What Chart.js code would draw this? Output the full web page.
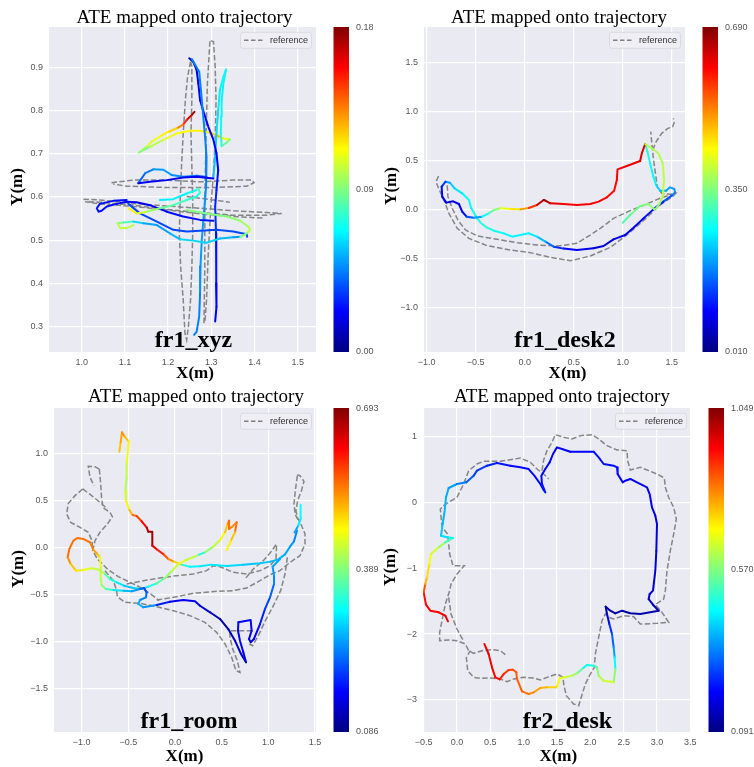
<!DOCTYPE html>
<html>
<head>
<meta charset="utf-8">
<title>ATE mapped onto trajectory</title>
<script src="https://cdn.jsdelivr.net/npm/chart.js@4.4.1/dist/chart.umd.min.js"></script>
<style>
  html, body { margin: 0; padding: 0; background: #fff; }
  #wrap { position: relative; width: 754px; height: 767px; overflow: hidden; }
  canvas { position: absolute; }
</style>
</head>
<body>
<div id="wrap">
  <canvas id="p1" width="390" height="384" style="left:0;top:0"></canvas>
  <canvas id="p2" width="377" height="384" style="left:377px;top:0"></canvas>
  <canvas id="p3" width="390" height="383" style="left:0;top:384px"></canvas>
  <canvas id="p4" width="377" height="383" style="left:377px;top:384px"></canvas>
</div>
<script>
// ---- fr1_xyz ----
const xyzRefX = [1.252,1.245,1.240,1.235,1.231,1.228,1.226,1.229,1.235,1.239,1.243,1.247,1.252,1.255,1.257,1.257,1.255,1.253,1.255,1.255,1.252, null,
  1.283,1.285,1.285,1.288,1.291,1.297,1.305,1.309,1.311,1.309,1.305,1.299,1.293,1.289,1.285, null,
  1.069,1.120,1.197,1.274,1.351,1.394,1.399,1.382,1.312,1.197,1.104,1.073, null,
  1.004,1.042,1.120,1.197,1.274,1.351,1.428,1.463,1.428,1.351,1.274,1.197,1.120,1.042,1.008,1.042,1.120,1.197,1.274,1.351,1.421, null,
  1.243,1.343];
const xyzRefY = [0.913,0.878,0.824,0.747,0.670,0.593,0.516,0.439,0.362,0.285,0.269,0.300,0.362,0.439,0.516,0.593,0.670,0.747,0.824,0.902,0.913, null,
  0.308,0.439,0.593,0.747,0.863,0.963,0.959,0.902,0.824,0.732,0.655,0.578,0.470,0.362,0.308, null,
  0.633,0.639,0.639,0.635,0.639,0.639,0.633,0.625,0.622,0.622,0.625,0.630, null,
  0.595,0.593,0.585,0.579,0.574,0.568,0.564,0.562,0.558,0.558,0.564,0.571,0.581,0.588,0.589,0.584,0.578,0.570,0.561,0.555,0.551, null,
  0.601,0.588];
const xyzEstX = [1.261,1.255,1.243,1.234,1.220,1.201,1.181,1.162,1.150,1.133,1.158,1.189,1.220,1.251,1.274,1.297,1.316,1.326,1.343,1.336,1.324,1.322,1.323,1.324,1.328,1.334,1.328,1.320,1.316,1.312,1.309,1.305, null,
  1.249,1.258,1.266,1.270,1.274,1.283,1.293,1.305,1.312,1.316,1.312,1.309,1.311,1.312,1.311,1.312,1.309, null,
  1.255,1.272,1.276,1.280,1.285,1.289,1.288,1.283,1.278,1.275,1.274,1.272,1.266,1.260, null,
  1.131,1.147,1.166,1.189,1.208,1.235,1.266,1.289, null,
  1.131,1.158,1.197,1.235,1.266,1.305, null,
  1.104,1.073,1.042,1.035,1.039,1.046,1.058,1.081,1.104,1.127,1.158,1.197,1.235,1.274,1.305, null,
  1.108,1.135,1.174,1.212,1.243,1.274,1.312,1.351,1.382,1.383, null,
  1.083,1.096,1.120,1.143,1.174,1.204,1.228,1.258,1.289,1.320,1.351,1.367, null,
  1.083,1.089,1.104,1.120, null,
  1.243,1.289,1.336,1.367,1.386,1.390,1.382,1.367, null,
  1.108,1.127,1.150,1.181,1.212,1.243,1.266,1.274,1.270, null,
  1.181,1.212,1.243,1.266];
const xyzEstY = [0.797,0.790,0.778,0.767,0.759,0.751,0.740,0.728,0.716,0.703,0.716,0.732,0.747,0.753,0.753,0.749,0.741,0.736,0.733,0.726,0.718,0.747,0.786,0.824,0.863,0.895,0.878,0.848,0.801,0.747,0.693,0.647, null,
  0.921,0.913,0.894,0.863,0.824,0.794,0.763,0.732,0.701,0.662,0.616,0.578,0.516,0.454,0.400,0.346,0.312, null,
  0.919,0.890,0.848,0.801,0.747,0.693,0.624,0.562,0.501,0.439,0.377,0.323,0.288,0.281, null,
  0.632,0.655,0.664,0.663,0.651,0.647,0.649,0.646, null,
  0.632,0.635,0.639,0.645,0.647,0.643, null,
  0.593,0.591,0.584,0.574,0.566,0.568,0.578,0.584,0.589,0.588,0.581,0.566,0.555,0.547,0.545, null,
  0.584,0.562,0.543,0.524,0.520,0.522,0.524,0.520,0.514,0.508, null,
  0.539,0.541,0.543,0.539,0.535,0.516,0.502,0.499,0.494,0.504,0.507,0.508, null,
  0.539,0.528,0.528,0.535, null,
  0.570,0.562,0.555,0.545,0.531,0.524,0.516,0.507, null,
  0.574,0.562,0.566,0.574,0.581,0.593,0.601,0.610,0.620, null,
  0.593,0.595,0.608,0.616];
const xyzErr = [0.175,0.165,0.15,0.135,0.12,0.115,0.11,0.105,0.1,0.09,0.1,0.108,0.112,0.115,0.115,0.12,0.125,0.11,0.09,0.085,0.075,0.07,0.068,0.066,0.066,0.07,0.068,0.065,0.062,0.06,0.058,0.056, null,
  0.01,0.012,0.015,0.018,0.02,0.02,0.02,0.02,0.022,0.025,0.028,0.03,0.025,0.025,0.022,0.02,0.02, null,
  0.045,0.045,0.045,0.045,0.045,0.045,0.048,0.05,0.05,0.048,0.045,0.045,0.045,0.045, null,
  0.04,0.045,0.05,0.05,0.048,0.045,0.04,0.045, null,
  0.02,0.02,0.02,0.02,0.02,0.02, null,
  0.025,0.025,0.025,0.025,0.025,0.025,0.025,0.022,0.02,0.02,0.02,0.025,0.025,0.025,0.025, null,
  0.035,0.035,0.035,0.035,0.035,0.035,0.035,0.035,0.035,0.035, null,
  0.09,0.08,0.06,0.052,0.05,0.055,0.06,0.06,0.06,0.055,0.05,0.05, null,
  0.1,0.102,0.1,0.09, null,
  0.09,0.09,0.092,0.095,0.1,0.1,0.09,0.085, null,
  0.115,0.105,0.095,0.085,0.08,0.075,0.07,0.08,0.075, null,
  0.065,0.065,0.07,0.07];

// ---- fr1_desk2 ----
const desk2RefX = [-0.878,-0.905,-0.874,-0.824,-0.773,-0.688,-0.569,-0.383,-0.145,0.058,0.262,0.465,0.669,0.873,1.042,1.212,1.381,1.500,1.541,1.483,1.398,1.354,1.334,1.313,1.300,1.286, null,
  1.307,1.341,1.398,1.456,1.510,1.524,1.517, null,
  -0.790,-0.783,-0.739,-0.678,-0.603,-0.484,-0.281,-0.077,0.126,0.347,0.533,0.669,0.771,0.839,0.906,1.076,1.246,1.381,1.483];
const desk2RefY = [0.342,0.284,0.206,0.097,-0.040,-0.193,-0.295,-0.370,-0.414,-0.441,-0.489,-0.523,-0.476,-0.387,-0.261,-0.114,0.046,0.124,0.165,0.155,0.165,0.226,0.369,0.522,0.642,0.795, null,
  0.608,0.693,0.778,0.826,0.846,0.887,0.931, null,
  0.247,0.131,0.012,-0.114,-0.210,-0.271,-0.305,-0.339,-0.363,-0.373,-0.346,-0.261,-0.193,-0.142,-0.091,-0.012,0.056,0.114,0.148];
const desk2EstX = [1.229,1.252,1.280,1.313,1.341,1.381,1.442,1.483,1.527,1.534,1.500,1.415,1.313,1.212,1.110,1.025,0.906,0.805,0.703,0.533,
  0.398,0.296,0.211,0.126,0.041,-0.043,-0.128,-0.213,-0.315,-0.383,-0.450,-0.484,-0.545,-0.569,-0.637,-0.715,-0.763,-0.807,-0.847,-0.841,
  -0.800,-0.729,-0.671,-0.637,-0.593,-0.518,-0.434,-0.366,-0.315,-0.247,-0.145,-0.043,0.041,0.126,0.194,0.211,0.262,0.398,0.533,0.669,
  0.754,0.839,0.913,0.940,0.947,1.042,1.178,1.195,1.229,1.297,1.364,1.408,1.422,1.408,1.374,1.330,1.263,1.178,1.076,1.001];
const desk2EstY = [0.669,0.591,0.471,0.335,0.250,0.192,0.192,0.226,0.209,0.175,0.141,0.080,0.001,-0.091,-0.186,-0.261,-0.305,-0.373,-0.397,-0.414,
  -0.400,-0.380,-0.329,-0.278,-0.244,-0.261,-0.278,-0.244,-0.217,-0.186,-0.135,-0.091,0.012,0.097,0.165,0.216,0.274,0.284,0.233,0.131,
  0.070,0.083,0.056,-0.022,-0.074,-0.084,-0.074,-0.040,-0.005,0.012,0.005,0.001,0.015,0.046,0.097,0.090,0.063,0.056,0.046,0.056,
  0.080,0.124,0.192,0.301,0.410,0.444,0.495,0.574,0.669,0.625,0.574,0.471,0.301,0.131,0.056,-0.005,0.056,0.035,-0.057,-0.135];
const desk2Err = [0.30,0.28,0.27,0.26,0.24,0.22,0.2,0.2,0.2,0.18,0.15,0.12,0.1,0.09,0.09,0.08,0.07,0.07,0.08,0.09,
  0.12,0.17,0.22,0.25,0.26,0.26,0.26,0.27,0.28,0.29,0.29,0.28,0.27,0.27,0.25,0.23,0.2,0.13,0.1,0.08,
  0.07,0.07,0.08,0.1,0.15,0.2,0.27,0.32,0.36,0.42,0.45,0.5,0.57,0.65,0.67,0.66,0.62,0.61,0.61,0.61,
  0.61,0.6,0.6,0.61,0.61,0.62,0.63,0.63,0.38,0.38,0.38,0.39,0.39,0.38,0.37,0.36,0.35,0.34,0.32,0.28];

// ---- fr1_room ----
const roomRefX = [-0.811,-0.857,-0.929,-0.911,-0.868, null,
  -0.811,-0.796,-0.786,-0.768,-0.696,-0.671,-0.725,-0.804,-0.857,-0.882,-0.832,-0.725,-0.607,-0.482,-0.357,-0.261,-0.168, null,
  -0.989,-1.071,-1.143,-1.161,-1.118,-1.018,-0.929,-0.889,-0.882, null,
  -0.989,-0.893,-0.804,-0.725, null,
  -0.75,-0.661,-0.625,-0.618,-0.536,-0.375,-0.196,-0.018,0.161,0.321,0.446,0.536,0.607,0.654,0.696,0.668,0.618,0.589,0.589,0.696,0.821, null,
  -0.518,-0.339,-0.161,0.018,0.196,0.339,0.411,0.482,0.625,0.768,0.911,1.018,1.082,1.089, null,
  1.082,1.025,0.946,0.839,0.75, null,
  -0.196,-0.018,0.196,0.446,0.625,0.768,0.911,1.018,1.125,1.232,1.339,1.393,1.393,1.357,1.311,1.296,1.314,1.357,1.382,1.339,1.311, null,
  1.311,1.289,1.275,1.289,1.332, null,
  1.204,1.179,1.132,1.054,0.964,0.893,0.832,0.796];
const roomRefY = [0.833,0.858,0.862,0.745,0.656, null,
  0.833,0.674,0.514,0.418,0.372,0.326,0.248,0.160,0.071,-0.035,-0.124,-0.230,-0.312,-0.372,-0.433,-0.496,-0.567, null,
  0.621,0.550,0.468,0.355,0.266,0.213,0.160,0.071,-0.035, null,
  0.621,0.550,0.479,0.408, null,
  -0.248,-0.355,-0.461,-0.525,-0.585,-0.596,-0.631,-0.674,-0.727,-0.798,-0.904,-1.028,-1.170,-1.312,-1.330,-1.206,-1.082,-0.957,-0.887,-0.887,-0.887, null,
  -0.390,-0.355,-0.326,-0.301,-0.284,-0.248,-0.195,-0.206,-0.266,-0.284,-0.248,-0.195,-0.124,0.035, null,
  0.028,-0.053,-0.142,-0.230,-0.337, null,
  -0.560,-0.532,-0.489,-0.468,-0.461,-0.433,-0.355,-0.291,-0.248,-0.160,-0.089,0.035,0.142,0.230,0.319,0.390,0.496,0.610,0.702,0.762,0.773, null,
  0.762,0.603,0.461,0.348,0.266, null,
  -0.106,-0.284,-0.461,-0.621,-0.787,-0.940,-1.046,-1.028];
const roomEstX = [-0.596,-0.582,-0.568,-0.539,-0.496,-0.504,-0.518,-0.518,-0.532,-0.525,-0.489,-0.454,-0.411,-0.357,-0.304,-0.286,-0.243,-0.243,-0.189,-0.118,
  -0.071,-0.011,0.071,0.161,0.268,0.393,0.554,0.732,0.911,1.025,1.107,1.179,1.232,1.275,1.307,1.282,1.321,1.350,1.346, null,
  -0.875,-0.911,-0.982,-1.046,-1.089,-1.132,-1.15,-1.118,-1.061,-0.982,-0.893,-0.811,-0.75,-0.696,-0.625,-0.546,-0.446,-0.357,-0.286,-0.196,
  -0.107,-0.036,0.036,0.118,0.196,0.257,0.321,0.411,0.482,0.536,0.564,0.579,0.579,0.614,0.661,0.643,0.596,0.554, null,
  -0.875,-0.832,-0.804,-0.796,-0.796,-0.786,-0.739,-0.661,-0.554,-0.464,-0.375,-0.332,-0.304,-0.311,-0.375,-0.393,-0.339,-0.196,-0.054,0.089,
  0.214,0.268,0.375,0.482,0.571,0.643,0.704,0.761,0.732,0.696,0.675,0.679,0.811,0.821,0.793,0.811,0.846,0.911,0.964,1.018,1.061,1.061,1.046,1.125];
const roomEstY = [1.018,1.117,1.223,1.177,1.128,1.028,0.887,0.745,0.603,0.496,0.397,0.344,0.333,0.277,0.213,0.167,0.167,0.018,-0.025,-0.078,
  -0.124,-0.152,-0.184,-0.206,-0.202,-0.184,-0.198,-0.184,-0.170,-0.152,-0.128,-0.075,0.007,0.064,0.177,0.160,0.231,0.312,0.454, null,
  -0.025,0.053,0.089,0.099,0.071,-0.018,-0.106,-0.177,-0.248,-0.241,-0.223,-0.238,-0.284,-0.337,-0.372,-0.408,-0.433,-0.443,-0.418,-0.383,
  -0.326,-0.255,-0.177,-0.135,-0.106,-0.078,-0.053,0.007,0.078,0.16,0.248,0.284,0.195,0.22,0.266,0.16,0.064,-0.028, null,
  -0.025,-0.071,-0.106,-0.213,-0.337,-0.401,-0.443,-0.454,-0.461,-0.468,-0.443,-0.433,-0.479,-0.532,-0.56,-0.603,-0.638,-0.613,-0.578,-0.56,
  -0.574,-0.621,-0.691,-0.762,-0.869,-0.993,-1.128,-1.223,-1.117,-0.993,-0.887,-0.798,-0.773,-0.887,-0.975,-1.011,-0.975,-0.816,-0.656,-0.532,-0.39,-0.301,-0.206,-0.124];
const roomErr = [0.5,0.52,0.53,0.5,0.47,0.45,0.43,0.42,0.44,0.47,0.51,0.55,0.58,0.62,0.66,0.67,0.67,0.63,0.6,0.57,
  0.53,0.49,0.33,0.31,0.3,0.3,0.29,0.28,0.28,0.27,0.27,0.26,0.25,0.24,0.24,0.26,0.3,0.32,0.34, null,
  0.54,0.55,0.55,0.55,0.55,0.55,0.53,0.5,0.48,0.45,0.43,0.42,0.37,0.33,0.3,0.28,0.29,0.3,0.33,0.37,
  0.4,0.43,0.45,0.43,0.42,0.33,0.4,0.43,0.46,0.5,0.53,0.55,0.54,0.53,0.55,0.5,0.47,0.45, null,
  0.52,0.5,0.46,0.43,0.42,0.4,0.35,0.3,0.27,0.25,0.22,0.2,0.22,0.24,0.26,0.27,0.25,0.18,0.15,0.15,
  0.15,0.13,0.12,0.11,0.12,0.13,0.13,0.14,0.15,0.15,0.15,0.16,0.16,0.15,0.14,0.14,0.16,0.18,0.2,0.22,0.24,0.25,0.26,0.26];

// ---- fr2_desk ----
const deskRefX = [0.725,0.65,0.525,0.375,0.25,0.175,0.125,0.0,-0.125,-0.26,-0.26,-0.225,-0.175,-0.11,-0.09,0.0,0.11,0.05,-0.06,-0.11,
  -0.14,-0.225,-0.25,-0.2,-0.125,0.0,0.1,0.175,0.3,0.4,0.65,0.775,0.95,1.1,1.2,1.3,1.375, null,
  1.275,1.3,1.35,1.425,1.475,1.6,1.725,1.85,2.025,2.125,2.25,2.4,2.55,2.56,2.6,2.75,2.875,3.0,3.11,3.125,
  3.175,3.25,3.29,3.25,3.2,3.15,3.125,3.1,3.025,2.975,3.075,3.175,3.0,2.8,2.75,2.65,2.5,2.35,2.275,2.225,
  2.175,2.125,2.075,2.06,2.0,1.925,1.825,1.75,1.64,1.6,1.59,1.5,1.35,1.25,1.15,1.0,0.85,0.75,0.65,0.5,
  0.35,0.25,0.16,0.14,0.2, null,
  -0.125,-0.09,0.0,0.09];
const deskRefY = [-2.312,-2.252,-2.236,-2.252,-2.292,-2.252,-2.150,-2.100,-2.090,-2.100,-1.973,-1.796,-1.544,-1.341,-1.240,-1.088,-0.962,-0.962,-0.962,-0.785,
  -0.482,-0.381,-0.102,-0.052,-0.001,0.075,0.277,0.479,0.580,0.621,0.621,0.641,0.671,0.606,0.504,0.429,0.353, null,
  0.479,0.641,0.783,0.909,1.025,0.985,0.960,1.010,1.025,0.960,0.858,0.793,0.783,0.631,0.489,0.530,0.479,0.429,0.368,0.226,
  0.075,-0.077,-0.254,-0.482,-0.735,-1.038,-1.341,-1.468,-1.518,-1.554,-1.670,-1.822,-1.837,-1.847,-1.847,-1.736,-1.721,-1.771,-1.746,-1.695,
  -1.796,-2.049,-2.302,-2.504,-2.606,-2.757,-3.086,-3.061,-2.934,-2.757,-2.656,-2.606,-2.656,-2.697,-2.666,-2.656,-2.681,-2.722,-2.681,-2.666,
  -2.671,-2.656,-2.555,-2.353,-2.252, null,
  -1.442,-1.695,-1.923,-2.090];
const deskEstX = [-0.135,-0.175,-0.275,-0.4,-0.465,-0.5,-0.475,-0.45,-0.415,-0.39,-0.275,-0.175,-0.06,-0.15,-0.24,-0.215,-0.185,-0.165,-0.125,0.0,
  0.14,0.25,0.3,0.45,0.6,0.8,0.95,1.075,1.16,1.25,1.3,1.325,1.275,1.265,1.325,1.39,1.44,1.5,1.575,1.7,
  1.9,2.05,2.125,2.2,2.35,2.4,2.41,2.485,2.525,2.6,2.7,2.85,2.89,2.925,2.975,3.0,2.99,2.975,2.94,2.89,
  2.875,2.94,3.025,2.75,2.6,2.475,2.375,2.3,2.23,2.25,2.285,2.325,2.35,2.365,2.375,2.35,2.2,2.125,2.1,2.05,
  1.95,1.875,1.8,1.725,1.625,1.54,1.525,1.49,1.35,1.25,1.15,1.075,0.975,0.9,0.89,0.84,0.775,0.7,0.64,0.575,
  0.525,0.475,0.41];
const deskEstY = [-1.807,-1.721,-1.670,-1.645,-1.554,-1.367,-1.240,-1.139,-0.937,-0.785,-0.684,-0.608,-0.542,-0.532,-0.507,-0.330,-0.128,0.075,0.216,0.277,
  0.302,0.403,0.479,0.555,0.595,0.555,0.530,0.504,0.403,0.277,0.186,0.150,0.277,0.403,0.504,0.606,0.732,0.833,0.808,0.767,
  0.767,0.767,0.681,0.580,0.555,0.530,0.429,0.302,0.327,0.353,0.302,0.226,0.125,-0.077,-0.204,-0.330,-0.735,-1.038,-1.341,-1.392,
  -1.468,-1.554,-1.645,-1.695,-1.685,-1.645,-1.685,-1.645,-1.584,-1.695,-1.847,-1.999,-2.201,-2.353,-2.530,-2.732,-2.707,-2.631,-2.504,-2.479,
  -2.469,-2.530,-2.596,-2.631,-2.656,-2.666,-2.732,-2.808,-2.808,-2.818,-2.884,-2.909,-2.868,-2.681,-2.580,-2.540,-2.545,-2.606,-2.687,-2.656,
  -2.504,-2.302,-2.150];
const deskErr = [0.95,0.94,0.93,0.93,0.92,0.85,0.76,0.72,0.68,0.65,0.6,0.52,0.45,0.42,0.4,0.38,0.38,0.37,0.36,0.33,
  0.3,0.27,0.26,0.24,0.23,0.22,0.22,0.22,0.22,0.22,0.23,0.23,0.22,0.22,0.21,0.2,0.2,0.2,0.2,0.21,
  0.21,0.22,0.22,0.22,0.22,0.22,0.2,0.2,0.2,0.2,0.2,0.2,0.2,0.19,0.18,0.18,0.17,0.17,0.17,0.16,
  0.15,0.14,0.13,0.13,0.13,0.13,0.12,0.12,0.13,0.2,0.25,0.3,0.36,0.45,0.58,0.65,0.62,0.58,0.52,0.47,
  0.45,0.55,0.6,0.63,0.66,0.68,0.7,0.73,0.76,0.78,0.8,0.82,0.84,0.84,0.85,0.86,0.88,0.9,0.92,0.93,
  0.94,0.95,0.95];

const SERIF = "'Liberation Serif', 'Times New Roman', serif";
const SANS = "'Liberation Sans', Arial, sans-serif";
Chart.defaults.font.family = SANS;

// matplotlib-style jet
function jet(t) {
  t = Math.max(0, Math.min(1, t));
  const c = v => Math.round(255 * Math.max(0, Math.min(1, v)));
  return `rgb(${c(1.5 - Math.abs(4 * t - 3))},${c(1.5 - Math.abs(4 * t - 2))},${c(1.5 - Math.abs(4 * t - 1))})`;
}

function fmt(v, d) {
  return (v < -1e-9 ? '\u2212' : '') + Math.abs(v).toFixed(d);
}

function toPts(xs, ys) {
  return xs.map((x, i) => ({ x: x, y: ys[i] }));
}

// background, legend, colorbar and texts
const decor = {
  id: 'decor',
  beforeDraw(chart) {
    const { ctx, chartArea: a } = chart;
    ctx.save();
    ctx.fillStyle = '#EAEAF2';
    ctx.fillRect(a.left, a.top, a.right - a.left, a.bottom - a.top);
    ctx.restore();
  },
  afterDraw(chart, args, o) {
    const { ctx, chartArea: a } = chart;
    ctx.save();

    // legend box
    const lw = 71, lh = 16, lx = a.right - 4.5 - lw, ly = a.top + 5.3;
    ctx.beginPath();
    if (ctx.roundRect) ctx.roundRect(lx, ly, lw, lh, 2.5); else ctx.rect(lx, ly, lw, lh);
    ctx.fillStyle = 'rgba(238,238,244,0.9)';
    ctx.fill();
    ctx.strokeStyle = '#dadae2';
    ctx.lineWidth = 1;
    ctx.stroke();
    ctx.setLineDash([4.5, 2.5]);
    ctx.strokeStyle = 'rgb(128,128,128)';
    ctx.lineWidth = 1.5;
    ctx.beginPath();
    ctx.moveTo(lx + 3.5, ly + 8);
    ctx.lineTo(lx + 22.5, ly + 8);
    ctx.stroke();
    ctx.setLineDash([]);
    ctx.fillStyle = '#333';
    ctx.font = `9px ${SANS}`;
    ctx.textAlign = 'left';
    ctx.textBaseline = 'middle';
    ctx.fillText('reference', lx + 29.5, ly + 8);

    // colorbar
    const cx = a.right + 17.5, cw = 15.5;
    const g = ctx.createLinearGradient(0, a.bottom, 0, a.top);
    for (let i = 0; i <= 32; i++) g.addColorStop(i / 32, jet(i / 32));
    ctx.fillStyle = g;
    ctx.fillRect(cx, a.top, cw, a.bottom - a.top);
    ctx.fillStyle = '#555';
    ctx.font = `9px ${SANS}`;
    const mid = (o.eMin + o.eMax) / 2;
    ctx.fillText(o.eMax.toFixed(o.eDec), cx + cw + 7, a.top + 1);
    ctx.fillText(mid.toFixed(o.eDec), cx + cw + 7, (a.top + a.bottom) / 2);
    ctx.fillText(o.eMin.toFixed(o.eDec), cx + cw + 7, a.bottom);

    // dataset tag
    ctx.fillStyle = '#000';
    ctx.textAlign = 'center';
    ctx.textBaseline = 'alphabetic';
    ctx.font = `bold 24px ${SERIF}`;
    ctx.fillText(o.name, o.tag[0], o.tag[1]);

    // title
    ctx.font = `19px ${SERIF}`;
    ctx.fillText('ATE mapped onto trajectory', o.title[0], o.title[1]);

    // axis labels
    ctx.font = `bold 17px ${SERIF}`;
    ctx.fillText('X(m)', o.xlab[0], o.xlab[1]);
    ctx.translate(o.ylab[0], o.ylab[1]);
    ctx.rotate(-Math.PI / 2);
    ctx.textBaseline = 'middle';
    ctx.fillText('Y(m)', 0, 0);
    ctx.restore();
  }
};

const panels = [
  { id: 'p1', W: 390, H: 384, area: { l: 49, r: 316, t: 27, b: 352 },
    refX: xyzRefX, refY: xyzRefY, estX: xyzEstX, estY: xyzEstY, err: xyzErr,
    xMin: 0.9243, xMax: 1.5424, yMin: 0.2413, yMax: 0.9933, xStep: 0.1, yStep: 0.1, xDec: 1, yDec: 1,
    deco: { name: 'fr1_xyz', eMin: 0.0, eMax: 0.18, eDec: 2, title: [184.5, 23.3], xlab: [195, 377.5], ylab: [18, 187], tag: [193.5, 346.5] } },
  { id: 'p2', W: 377, H: 384, area: { l: 47, r: 308, t: 27, b: 352 },
    refX: desk2RefX, refY: desk2RefY, estX: desk2EstX, estY: desk2EstY, err: desk2Err,
    xMin: -1.027, xMax: 1.6355, yMin: -1.4563, yMax: 1.8644, xStep: 0.5, yStep: 0.5, xDec: 1, yDec: 1,
    deco: { name: 'fr1_desk2', eMin: 0.01, eMax: 0.69, eDec: 3, title: [182, 23.3], xlab: [190.5, 377.5], ylab: [14.5, 186], tag: [188, 346.5] } },
  { id: 'p3', W: 390, H: 383, area: { l: 54, r: 316, t: 24, b: 348 },
    refX: roomRefX, refY: roomRefY, estX: roomEstX, estY: roomEstY, err: roomErr,
    xMin: -1.2964, xMax: 1.5108, yMin: -1.9645, yMax: 1.4823, xStep: 0.5, yStep: 0.5, xDec: 1, yDec: 1,
    deco: { name: 'fr1_room', eMin: 0.0856, eMax: 0.6926, eDec: 3, title: [196, 17.5], xlab: [184.5, 377], ylab: [19, 185], tag: [189, 343.5] } },
  { id: 'p4', W: 377, H: 383, area: { l: 46, r: 314, t: 24, b: 348 },
    refX: deskRefX, refY: deskRefY, estX: deskEstX, estY: deskEstY, err: deskErr,
    xMin: -0.51, xMax: 3.51, yMin: -3.4853, yMax: 1.4298, xStep: 0.5, yStep: 1, xDec: 1, yDec: 0,
    deco: { name: 'fr2_desk', eMin: 0.091, eMax: 1.049, eDec: 3, title: [185, 17.5], xlab: [181.3, 377], ylab: [14, 183], tag: [190.5, 343.5] } }
];

panels.forEach(p => {
  const span = p.deco.eMax - p.deco.eMin;
  const tickFont = { size: 9, family: SANS };
  new Chart(document.getElementById(p.id), {
    type: 'line',
    data: {
      datasets: [
        { label: 'reference', data: toPts(p.refX, p.refY), borderColor: 'rgba(128,128,128,0.95)',
          borderWidth: 1.5, borderDash: [5.5, 2.4], pointRadius: 0, tension: 0, order: 2 },
        { label: 'estimate', data: toPts(p.estX, p.estY), borderWidth: 2, pointRadius: 0, tension: 0,
          borderCapStyle: 'round', borderJoinStyle: 'round', borderColor: '#0000ff', order: 1,
          segment: { borderColor: c => jet((p.err[c.p0DataIndex] - p.deco.eMin) / span) } }
      ]
    },
    options: {
      responsive: false,
      animation: false,
      events: [],
      layout: { padding: { left: 0, top: p.area.t, right: p.W - p.area.r, bottom: 0 } },
      plugins: { legend: { display: false }, tooltip: { enabled: false }, decor: p.deco },
      scales: {
        x: {
          type: 'linear', min: p.xMin, max: p.xMax,
          afterFit: s => { s.height = p.H - p.area.b; },
          grid: { color: '#ffffff', lineWidth: 1.2, drawTicks: false },
          border: { display: false },
          ticks: { stepSize: p.xStep, includeBounds: false, autoSkip: false, maxRotation: 0, padding: 5,
                   color: '#555', font: tickFont, callback: v => fmt(v, p.xDec) }
        },
        y: {
          type: 'linear', min: p.yMin, max: p.yMax,
          afterFit: s => { s.width = p.area.l; },
          grid: { color: '#ffffff', lineWidth: 1.2, drawTicks: false },
          border: { display: false },
          ticks: { stepSize: p.yStep, includeBounds: false, autoSkip: false, padding: 6,
                   color: '#555', font: tickFont, callback: v => fmt(v, p.yDec) }
        }
      }
    },
    plugins: [decor]
  });
});
</script>
</body>
</html>
